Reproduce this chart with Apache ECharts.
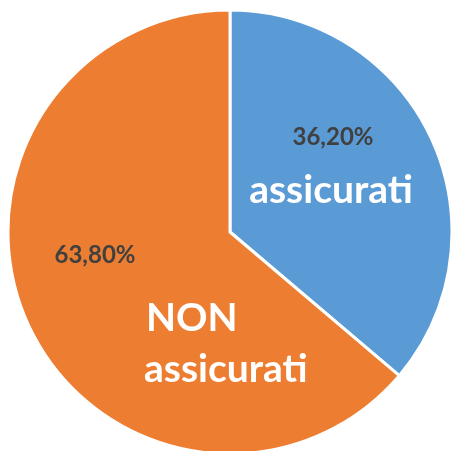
<!DOCTYPE html>
<html><head><meta charset="utf-8">
<script src="https://cdn.jsdelivr.net/npm/echarts@6/dist/echarts.min.js"></script>
<style>html,body{margin:0;padding:0;background:#fff}#c{width:452px;height:451px}</style>
</head><body><div id="c"></div>
<script>
const categories = ['assicurati', 'NON assicurati'];
const values = [36.20, 63.80];
const colors = ['#5B9BD5', '#ED7D31'];
const pctLabels = values.map(v => v.toFixed(2).replace('.', ',') + '%');

const chart = echarts.init(document.getElementById('c'));
const ff = 'Lato, "Open Sans", sans-serif';
function txt(x, y, text, fill, size, align) {
  return { type: 'text', x: x, y: y, z: 100,
    style: { text: text, fill: fill, fontSize: size, fontWeight: 'bold', fontFamily: ff, align: align, verticalAlign: 'middle' } };
}
const nameParts = categories[1].split(' ');
chart.setOption({
  animation: false,
  series: [{
    type: 'pie',
    center: [230, 232],
    radius: [0, 222],
    startAngle: 90,
    clockwise: true,
    label: { show: false },
    labelLine: { show: false },
    itemStyle: { borderColor: '#fff', borderWidth: 3 },
    data: categories.map((c, i) => ({ name: c, value: values[i], itemStyle: { color: colors[i] } }))
  }],
  graphic: { elements: [
    txt(333, 137, pctLabels[0], '#404040', 24, 'center'),
    txt(331, 190, categories[0], '#fff', 39, 'center'),
    txt(95, 255, pctLabels[1], '#404040', 24, 'center'),
    txt(146, 318, nameParts[0], '#fff', 39, 'left'),
    txt(144, 369, nameParts[1], '#fff', 39, 'left')
  ]}
});
</script></body></html>
